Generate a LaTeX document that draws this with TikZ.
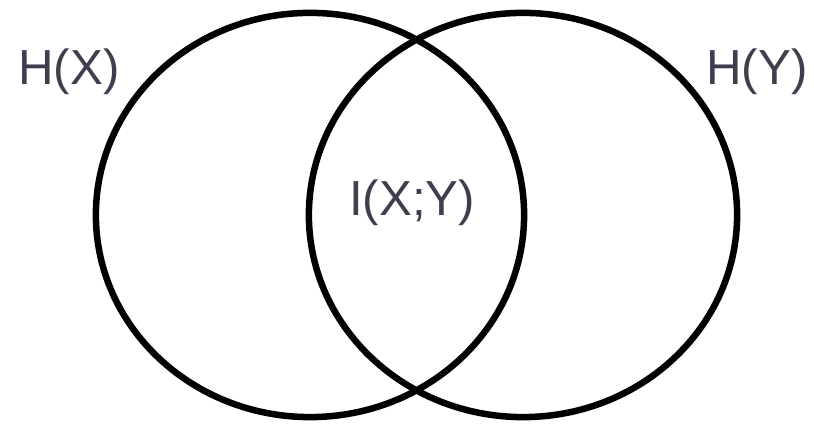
\documentclass[tikz,border=0pt]{standalone}
\usepackage{fontspec}
\setmainfont{Liberation Sans}
\usetikzlibrary{shapes,positioning}

\definecolor{labelgray}{RGB}{62,62,78}

\tikzset{
    entset/.style={draw, ellipse, line width=1.85pt, inner sep=0pt,
        minimum width=4.28cm, minimum height=4.04cm},
    entlabel/.style={text=labelgray, font=\fontsize{14}{16}\selectfont}
}

\begin{document}
\begin{tikzpicture}[x=0.01cm, y=-0.01cm]
    \useasboundingbox (0,0) rectangle (814,425);
    \node[entset] (hx) at (310,215) {};
    \node[entset] (hy) at (523,215) {};
    \node[entlabel] (lx) at (69,72) {H(X)};
    \node[entlabel] (ly) at (757,72) {H(Y)};
    \node[entlabel] (mi) at (412,203) {I(X;Y)};
\end{tikzpicture}
\end{document}
